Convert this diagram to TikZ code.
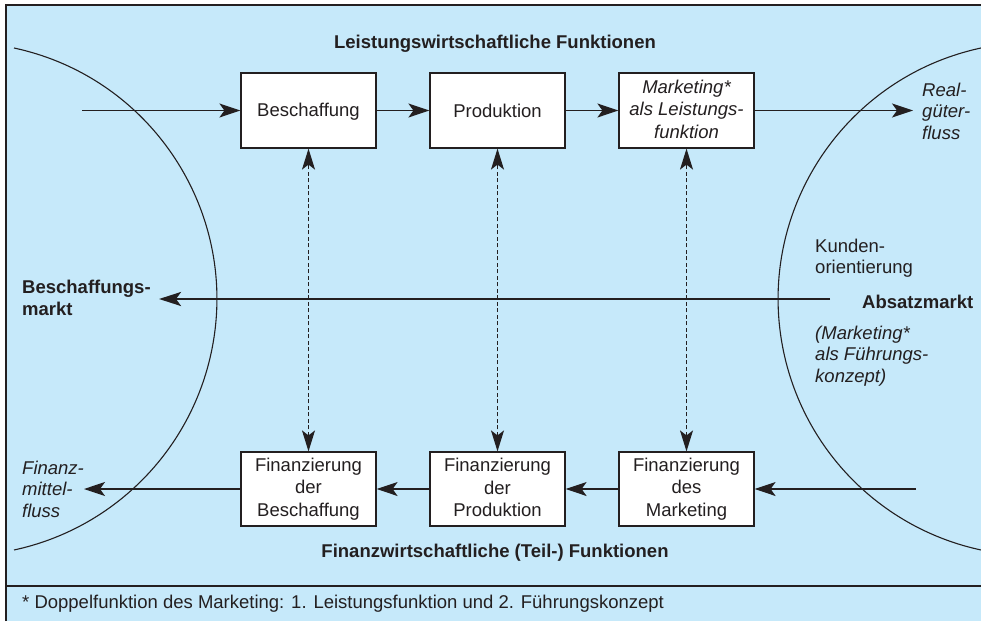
\documentclass[tikz,border=0pt]{standalone}
\usepackage{fontspec}
\setmainfont{Liberation Sans}
\usetikzlibrary{arrows.meta}
\definecolor{bg}{RGB}{198,233,250}
\definecolor{ink}{RGB}{35,31,32}
\newcommand\fsz{\fontsize{18.5}{21.5}\selectfont}
\newcommand\bfsz{\fontsize{18.5}{22.5}\selectfont}
\newcommand\bstrut{\rule[-3pt]{0pt}{19.2pt}}
\begin{document}
\begin{tikzpicture}[x=1pt,y=-1pt,
  font=\fsz, text=ink,
  fbox/.style={draw=ink, line width=1.2pt, fill=white, minimum width=135pt,
    minimum height=75pt, align=center, inner sep=0pt, font=\bfsz,
    execute at begin node=\bstrut, execute at end node=\bstrut},
  lbl/.style={inner sep=0pt, align=left, anchor=west, font=\fsz},
  blbl/.style={inner sep=0pt, align=left, anchor=west, font=\fsz\bfseries},
  ilbl/.style={inner sep=0pt, align=left, anchor=west, font=\fsz\itshape},
  arr/.style={draw=ink, line width=1.3pt, -{Stealth[length=21pt,width=14pt,inset=5pt]}},
  thickarr/.style={draw=ink, line width=2.6pt, -{Stealth[length=22pt,width=14pt,inset=5pt]}},
  darr/.style={draw=ink, line width=1.2pt, dash pattern=on 4pt off 2.5pt,
    {Stealth[length=21pt,width=13pt,inset=5pt]}-{Stealth[length=21pt,width=13pt,inset=5pt]}},
  arc/.style={draw=ink, line width=1.1pt}]
\useasboundingbox (0,0) rectangle (981,621);
\fill[white] (0,0) rectangle (981,621);
\fill[bg] (6,5) rectangle (981,621);
\draw[ink, line width=1.5pt] (6,621) -- (6,5) -- (981,5);
\draw[ink, line width=1.2pt] (6,586) -- (981,586);
% market arcs
\draw[arc] (14,48) arc[start angle=77.9, end angle=-77.9, radius=256.7pt];
\draw[arc] (981,48) arc[start angle=102.1, end angle=257.9, radius=256.7pt];
% boxes
\node[fbox] (b1) at (308.5,110.5) {Beschaffung};
\node[fbox] (b2) at (497.5,110.5) {Produktion};
\node[fbox, font=\bfsz\itshape] (b3) at (686.5,110.5) {Marketing*\\als Leistungs-\\funktion};
\node[fbox, minimum height=74pt] (f1) at (308.5,489) {Finanzierung\\der\\Beschaffung};
\node[fbox, minimum height=74pt] (f2) at (497.5,489) {Finanzierung\\der\\Produktion};
\node[fbox, minimum height=74pt] (f3) at (686.5,489) {Finanzierung\\des\\Marketing};
% free ends
\coordinate (inL) at (82,110.5);
\coordinate (outR) at (913,110.5);
\coordinate (finR) at (916,489);
\coordinate (finL) at (84,489);
\coordinate (thR) at (830,299);
\coordinate (thL) at (159,299);
% flows
\draw[arr] (inL) -- (b1);
\draw[arr] (b1) -- (b2);
\draw[arr] (b2) -- (b3);
\draw[arr] (b3) -- (outR);
\draw[arr] (finR) -- (f3);
\draw[arr] (f3) -- (f2);
\draw[arr] (f2) -- (f1);
\draw[arr] (f1) -- (finL);
\draw[thickarr] (thR) -- (thL);
\draw[darr] (f1) -- (b1);
\draw[darr] (f2) -- (b2);
\draw[darr] (f3) -- (b3);
% labels
\node[font=\fsz\bfseries, inner sep=0pt] (t1) at (495,44) {Leistungswirtschaftliche Funktionen};
\node[font=\fsz\bfseries, inner sep=0pt] (t2) at (495,553) {Finanzwirtschaftliche (Teil-) Funktionen};
\node[ilbl] (real) at (922,111) {Real-\\güter-\\fluss};
\node[ilbl] (fin) at (22,489) {Finanz-\\mittel-\\fluss};
\node[blbl] (bm) at (22,298) {Beschaffungs-\\markt};
\node[blbl] (am) at (862,302) {Absatzmarkt};
\node[lbl] (ko) at (815,258) {Kunden-\\orientierung};
\node[ilbl] (mf) at (815,356) {(Marketing*\\als Führungs-\\konzept)};
\node[lbl] (fn) at (22,604) {* Doppelfunktion des Marketing: 1. Leistungsfunktion und 2. Führungskonzept};
\end{tikzpicture}
\end{document}
